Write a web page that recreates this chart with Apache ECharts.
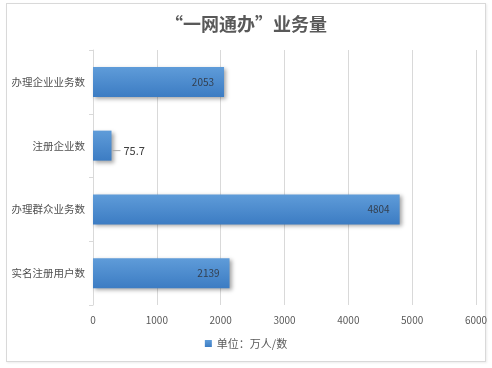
<!DOCTYPE html>
<html><head><meta charset="utf-8">
<script src="https://cdn.jsdelivr.net/npm/echarts@6/dist/echarts.min.js"></script>
<style>
html,body{margin:0;padding:0;background:#fff;}
#frame{position:absolute;left:6px;top:3px;width:478px;height:357px;border:1px solid #d9d9d9;background:#fff;box-shadow:1px 1px 2px rgba(0,0,0,0.08);}
#c{position:absolute;left:0;top:0;width:492px;height:368px;}
</style></head>
<body><div id="frame"></div><div id="c"></div>
<script>
var titleText = '“一网通办”业务量';
var seriesName = '单位：万人/数';
var categories = ['办理企业业务数','注册企业数','办理群众业务数','实名注册用户数'];
var values = [2053, 290, 4804, 2139];
var labelTexts = ['2053','75.7','4804','2139'];
var xTicks = [0,1000,2000,3000,4000,5000,6000];

var font = '"Noto Sans CJK SC", "Microsoft YaHei", sans-serif';
var chart = echarts.init(document.getElementById('c'), null, {renderer:'canvas'});
var data = values.map(function(v,i){
  var item = {value:v};
  if (labelTexts[i] === '75.7') {
    item.label = {position:'right', distance:1, color:'#404040', fontSize:11, offset:[0,5],
      formatter:function(p){return '{ln|}{t|' + labelTexts[p.dataIndex] + '}';},
      rich:{ln:{width:8,height:1,backgroundColor:'#a6a6a6'},t:{fontSize:11,color:'#404040',padding:[0,0,0,3],fontFamily:font}}};
  }
  return item;
});
chart.setOption({
  animation:false,
  backgroundColor:'transparent',
  title:{text:titleText,left:'center',top:10,textStyle:{fontFamily:font,fontSize:18,fontWeight:'bold',color:'#595959'}},
  legend:{bottom:14,left:'center',icon:'rect',itemWidth:7,itemHeight:7,itemGap:4,
    textStyle:{fontFamily:font,fontSize:11,color:'#595959'},data:[seriesName]},
  grid:{left:93,right:16,top:50,bottom:63,containLabel:false},
  xAxis:{type:'value',min:xTicks[0],max:xTicks[xTicks.length-1],interval:1000,
    axisLine:{show:false},axisTick:{show:false},
    axisLabel:{fontFamily:font,fontSize:10,color:'#595959',margin:10,formatter:function(v){return String(v);}},
    splitLine:{lineStyle:{color:'#d9d9d9',width:1}}},
  yAxis:{type:'category',inverse:true,data:categories,
    axisLine:{show:true,lineStyle:{color:'#d9d9d9'}},
    axisTick:{show:true,length:4,lineStyle:{color:'#d9d9d9'}},
    axisLabel:{fontFamily:font,fontSize:10.5,color:'#505050',margin:8}},
  series:[{name:seriesName,type:'bar',barWidth:30,data:data,
    itemStyle:{color:new echarts.graphic.LinearGradient(0,0,0,1,[{offset:0,color:'#5f9cd9'},{offset:1,color:'#3c7cc3'}]),
      shadowColor:'rgba(0,0,0,0.35)',shadowBlur:4,shadowOffsetX:2,shadowOffsetY:2},
    label:{show:true,position:'insideRight',distance:10,fontFamily:font,fontSize:10,color:'#333f4f',
      formatter:function(p){return labelTexts[p.dataIndex];}}
  }]
});
</script></body></html>
